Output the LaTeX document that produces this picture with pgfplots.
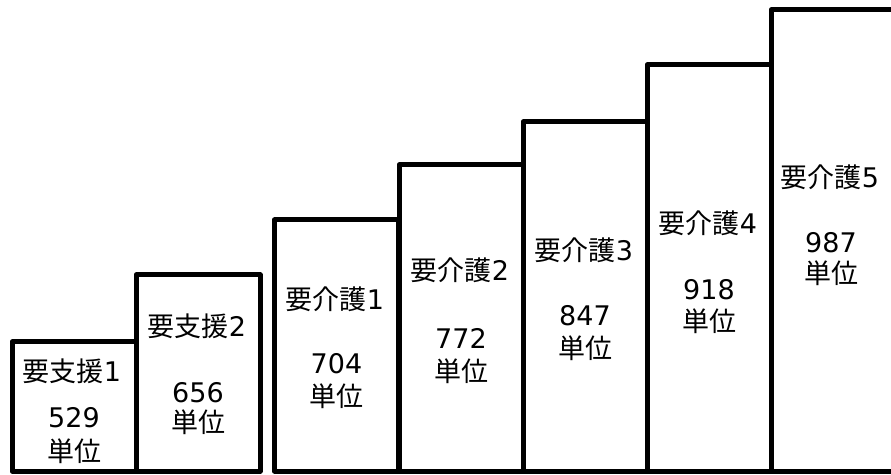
\documentclass[border=0pt]{standalone}
\usepackage{pgfplots}
\pgfplotsset{compat=1.18}
\usepackage{pgfplotstable}
\usepackage{fontspec}
\setmainfont{DejaVu Sans}
\newfontfamily\cjk{Noto Sans CJK JP}
% x = bar centre (px), h = drawn height (px above base line)
\pgfplotstableread{
x     h
74    129
198   196
336.5 251
461   306
585   349
709   406
833   461
}\bars
\begin{document}
\begin{tikzpicture}
\begin{axis}[
  width=891pt, height=474pt, scale only axis,
  xmin=0, xmax=891, ymin=-3, ymax=471,
  hide axis, clip=true,
  ybar, bar width=124, bar shift=0pt,
]
\addplot[draw=black, fill=white, line width=5pt, line join=round] table[x=x,y=h] {\bars};
\def\F{\fontsize{27}{30}\selectfont}
% labels: title, value, unit
\node[font=\F] at (axis cs:72,99.5) {{\cjk 要支援}1};
\node[font=\F] at (axis cs:74,53) {529};
\node[font=\F\cjk] at (axis cs:74,20) {単位};
\node[font=\F] at (axis cs:197,145) {{\cjk 要支援}2};
\node[font=\F] at (axis cs:198,78) {656};
\node[font=\F\cjk] at (axis cs:198,49) {単位};
\node[font=\F] at (axis cs:335,172) {{\cjk 要介護}1};
\node[font=\F] at (axis cs:336.5,107) {704};
\node[font=\F\cjk] at (axis cs:336.5,75) {単位};
\node[font=\F] at (axis cs:460,201) {{\cjk 要介護}2};
\node[font=\F] at (axis cs:461,133) {772};
\node[font=\F\cjk] at (axis cs:461,100) {単位};
\node[font=\F] at (axis cs:584,221) {{\cjk 要介護}3};
\node[font=\F] at (axis cs:585,155) {847};
\node[font=\F\cjk] at (axis cs:585,123) {単位};
\node[font=\F] at (axis cs:708,248) {{\cjk 要介護}4};
\node[font=\F] at (axis cs:709,181) {918};
\node[font=\F\cjk] at (axis cs:709,150) {単位};
\node[font=\F] at (axis cs:830,294) {{\cjk 要介護}5};
\node[font=\F] at (axis cs:831,228) {987};
\node[font=\F\cjk] at (axis cs:831,198) {単位};
\end{axis}
\pgfresetboundingbox
\useasboundingbox (current axis.south west) rectangle (current axis.north east);
\end{tikzpicture}
\end{document}
